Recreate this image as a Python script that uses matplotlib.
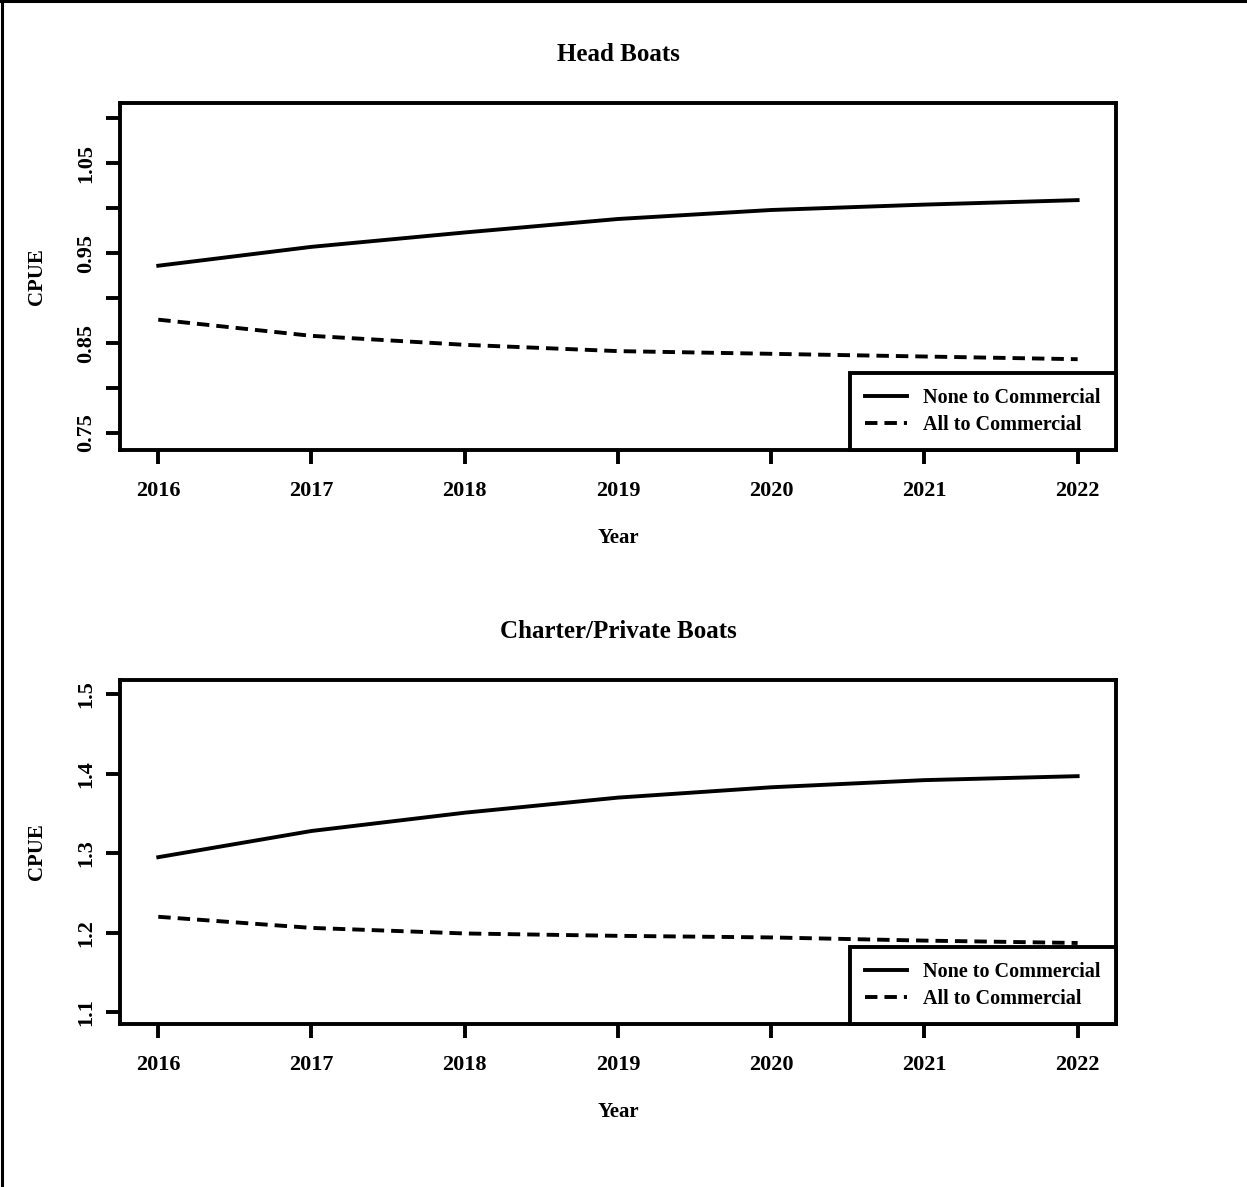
import matplotlib.pyplot as plt
from matplotlib.lines import Line2D
from matplotlib.ticker import FixedLocator, FixedFormatter

plt.rcParams['font.family'] = 'Liberation Serif'
plt.rcParams['font.weight'] = 'bold'

years = [2016, 2017, 2018, 2019, 2020, 2021, 2022]

# Head Boats CPUE
head_none = [0.936, 0.957, 0.973, 0.988, 0.998, 1.004, 1.009]
head_all = [0.876, 0.858, 0.848, 0.841, 0.838, 0.835, 0.832]

# Charter/Private Boats CPUE
charter_none = [1.295, 1.328, 1.351, 1.370, 1.383, 1.392, 1.397]
charter_all = [1.220, 1.206, 1.199, 1.196, 1.194, 1.190, 1.187]

head_ticks = [0.75, 0.80, 0.85, 0.90, 0.95, 1.00, 1.05, 1.10]
head_labels = ['0.75', '', '0.85', '', '0.95', '', '1.05', '']
charter_ticks = [1.1, 1.2, 1.3, 1.4, 1.5]
charter_labels = ['1.1', '1.2', '1.3', '1.4', '1.5']

legend_labels = ['None to Commercial', 'All to Commercial']

fig = plt.figure(figsize=(12.47, 11.87), dpi=100)
ax1 = fig.add_axes([0.0962, 0.6209, 0.7987, 0.2923])
ax2 = fig.add_axes([0.0962, 0.1373, 0.7987, 0.2898])

FS = 16
LW = 2.8


def panel(ax, title, none, all_, ticks, labels, ylim):
    ax.plot(years, none, color='black', lw=LW, label=legend_labels[0])
    ax.plot(years, all_, color='black', lw=LW, dashes=(3.2, 1.8), label=legend_labels[1])
    ax.set_xlim(2015.75, 2022.25)
    ax.set_ylim(*ylim)
    ax.set_xticks(years)
    ax.set_xticklabels([str(y) for y in years], fontsize=FS, fontweight='bold')
    ax.yaxis.set_major_locator(FixedLocator(ticks))
    ax.yaxis.set_major_formatter(FixedFormatter(labels))
    for t in ax.get_yticklabels():
        t.set_rotation(90)
        t.set_va('center')
        t.set_fontsize(FS)
        t.set_fontweight('bold')
    ax.tick_params(axis='x', length=10, width=LW, direction='out', pad=12)
    ax.tick_params(axis='y', length=10, width=LW, direction='out', pad=7)
    for s in ax.spines.values():
        s.set_linewidth(LW)
    ax.set_title(title, fontsize=FS + 2, fontweight='bold', pad=30)
    ax.set_xlabel('Year', fontsize=FS - 1, fontweight='bold', labelpad=20)
    ax.set_ylabel('CPUE', fontsize=FS - 1, fontweight='bold', labelpad=21)
    leg = ax.legend(loc='lower right', borderaxespad=0, fancybox=False,
                    edgecolor='black', framealpha=1, fontsize=14.5,
                    handlelength=2.1, handletextpad=0.8, labelspacing=0.35,
                    borderpad=0.75)
    leg.get_frame().set_linewidth(LW)
    for t in leg.get_texts():
        t.set_fontweight('bold')


panel(ax1, 'Head Boats', head_none, head_all, head_ticks, head_labels, (0.731, 1.117))
panel(ax2, 'Charter/Private Boats', charter_none, charter_all, charter_ticks, charter_labels, (1.085, 1.518))

# outer frame (left and top edges)
fig.add_artist(Line2D([0.0015, 0.0015], [0, 1], transform=fig.transFigure, color='black', lw=2.2))
fig.add_artist(Line2D([0, 1], [0.999, 0.999], transform=fig.transFigure, color='black', lw=2.2))

fig.savefig('out.png', dpi=100)
